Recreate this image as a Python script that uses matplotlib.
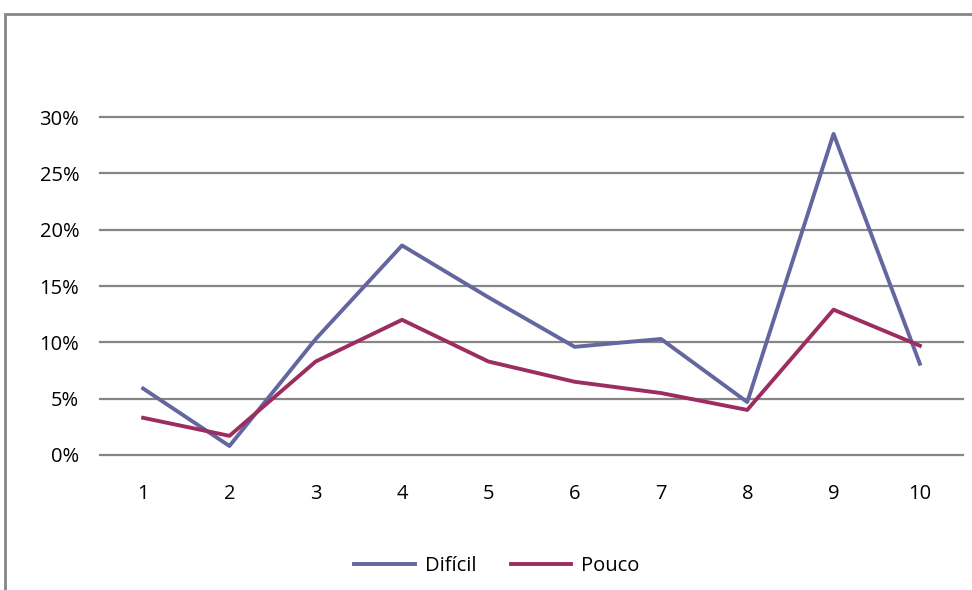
import matplotlib
matplotlib.use("Agg")
import matplotlib.pyplot as plt
from matplotlib.patches import Rectangle
from matplotlib.ticker import PercentFormatter

categories = [1, 2, 3, 4, 5, 6, 7, 8, 9, 10]
dificil = [5.9, 0.8, 10.3, 18.6, 14.0, 9.6, 10.3, 4.7, 28.5, 8.1]
pouco = [3.3, 1.7, 8.3, 12.0, 8.3, 6.5, 5.5, 4.0, 12.9, 9.7]
yticks = [0, 5, 10, 15, 20, 25, 30]

plt.rcParams['font.family'] = ['Open Sans', 'DejaVu Sans']

fig = plt.figure(figsize=(9.72, 5.90), dpi=100)
ax = fig.add_axes([100/972, 135/590, 863/972, 338/590])

grid_c = '#868686'
for y in yticks:
    ax.axhline(y, color=grid_c, lw=1.6, zorder=1, clip_on=False)

ax.plot(categories, dificil, color='#6466A0', lw=2.8, label='Difícil', zorder=3)
ax.plot(categories, pouco, color='#9B2D60', lw=2.8, label='Pouco', zorder=3)

ax.set_xlim(0.5, 10.5)
ax.set_ylim(0, 30)
ax.set_xticks(categories)
ax.set_xticklabels([str(c) for c in categories])
ax.set_yticks(yticks)
ax.yaxis.set_major_formatter(PercentFormatter(decimals=0))
ax.tick_params(axis='both', length=0, labelsize=14.5)
ax.tick_params(axis='y', pad=15)
ax.tick_params(axis='x', pad=21)
for s in ax.spines.values():
    s.set_visible(False)

fig.legend(loc='center', bbox_to_anchor=(497/972, 1 - 566/590), ncol=2,
           frameon=False, fontsize=14.5, handlelength=3.0, handletextpad=0.5,
           columnspacing=1.7)

fig.patches.append(Rectangle((5/972, -0.1), 1.2, (590 - 14)/590 + 0.1,
                             transform=fig.transFigure, fill=False,
                             edgecolor=grid_c, lw=2))

fig.savefig('out.png', dpi=100)
